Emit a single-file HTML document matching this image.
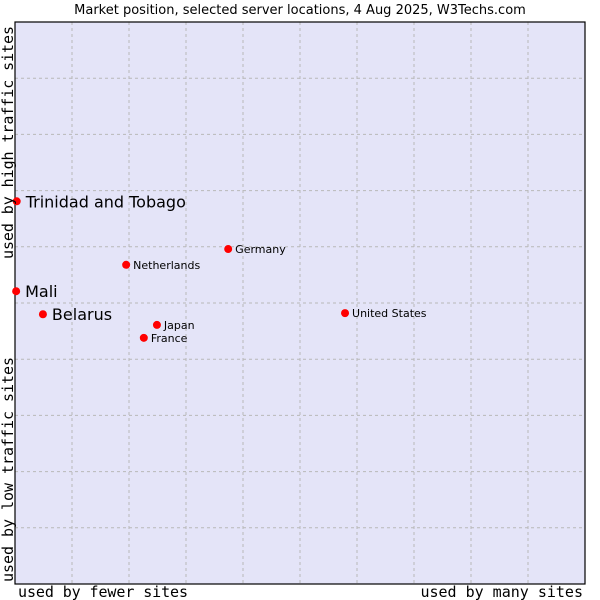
<!DOCTYPE html>
<html><head><meta charset="utf-8"><style>
body{margin:0;background:#fff;}
svg{display:block;font-family:"DejaVu Sans","Liberation Sans",sans-serif;}
.mono{font-family:"DejaVu Sans Mono","Liberation Mono",monospace;font-size:15px;fill:#000;}
</style></head><body>
<svg id="chart" width="600" height="600">
<text x="300" y="14" text-anchor="middle" font-size="13">Market position, selected server locations, 4 Aug 2025, W3Techs.com</text>
<rect x="15" y="22" width="570" height="562" fill="#e4e4f8"/>
<g id="grid"></g>
<rect x="15" y="22" width="570" height="562" fill="none" stroke="#000" stroke-width="1.2"/>
<g id="points"></g>
<text class="mono" x="18" y="597" textLength="170">used by fewer sites</text>
<text class="mono" x="583" y="597" text-anchor="end">used by many sites</text>
<text class="mono" transform="translate(13,259) rotate(-90)" textLength="233">used by high traffic sites</text>
<text class="mono" transform="translate(13,582) rotate(-90)" textLength="225">used by low traffic sites</text>
</svg>
<script>
const names=["Trinidad and Tobago","Mali","Belarus","Netherlands","Germany","United States","Japan","France"];
const xVals=[0.3,0.2,4.9,19.5,37.4,57.9,24.9,22.6];
const yVals=[68.1,52.1,48.0,56.8,59.6,48.2,46.1,43.8];
const bigLabel=[true,true,true,false,false,false,false,false];
const L=15,T=22,W=570,H=562;
const sx=v=>L+v/100*W, sy=v=>T+H-v/100*H;
const ns="http://www.w3.org/2000/svg";
const grid=document.getElementById('grid'), pts=document.getElementById('points');
for(let i=1;i<10;i++){
 const v=document.createElementNS(ns,'line');
 
 
 v.setAttribute('x1',sx(i*10));v.setAttribute('x2',sx(i*10));v.setAttribute('y1',T);v.setAttribute('y2',T+H);
 v.setAttribute('stroke','#b8b8b8');v.setAttribute('stroke-dasharray','3,3');grid.appendChild(v);
 const h=document.createElementNS(ns,'line');
 
 
 h.setAttribute('y1',sy(i*10));h.setAttribute('y2',sy(i*10));h.setAttribute('x1',L);h.setAttribute('x2',L+W);
 h.setAttribute('stroke','#b8b8b8');h.setAttribute('stroke-dasharray','3,3');grid.appendChild(h);
}
names.forEach((n,i)=>{
 const x=sx(xVals[i]),y=sy(yVals[i]);
 const c=document.createElementNS(ns,'circle');
 
 
 c.setAttribute('cx',x);c.setAttribute('cy',y);c.setAttribute('r',4);c.setAttribute('fill','#ff0000');pts.appendChild(c);
 const t=document.createElementNS(ns,'text');
 
 
 t.setAttribute('x',x+(bigLabel[i]?9:7));t.setAttribute('y',y+(bigLabel[i]?6:4));
 t.setAttribute('font-size',bigLabel[i]?16:11);t.textContent=n;pts.appendChild(t);
});
</script>
</body></html>
